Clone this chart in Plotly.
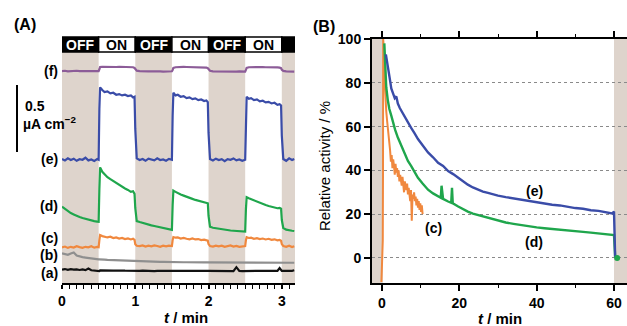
import plotly.graph_objects as go

# ---------------- Panel A data (current, µA cm^-2, offset traces) ----------------
tA = [0, 0.04, 0.08, 0.12, 0.16, 0.2, 0.24, 0.28, 0.32, 0.36, 0.4, 0.44, 0.48, 0.5,
      0.51, 0.52, 0.55, 0.58, 0.62, 0.66, 0.7, 0.74, 0.78, 0.82, 0.86, 0.9, 0.94, 0.97, 0.99,
      1.0, 1.02, 1.06, 1.1, 1.14, 1.18, 1.22, 1.26, 1.3, 1.34, 1.38, 1.42, 1.46, 1.5,
      1.51, 1.52, 1.55, 1.58, 1.62, 1.66, 1.7, 1.74, 1.78, 1.82, 1.86, 1.9, 1.94, 1.97, 1.99,
      2.0, 2.02, 2.06, 2.1, 2.14, 2.18, 2.22, 2.26, 2.3, 2.34, 2.38, 2.42, 2.46, 2.5,
      2.51, 2.52, 2.55, 2.58, 2.62, 2.66, 2.7, 2.74, 2.78, 2.82, 2.86, 2.9, 2.94, 2.97, 2.99,
      3.0, 3.02, 3.06, 3.1, 3.14, 3.17]

curr_f = [1.582, 1.584, 1.58, 1.583, 1.581, 1.584, 1.582, 1.58, 1.583, 1.581, 1.582, 1.58, 1.583, 1.582,
          1.595, 1.612, 1.614, 1.613, 1.615, 1.613, 1.614, 1.612, 1.614, 1.613, 1.612, 1.614, 1.611, 1.61, 1.605,
          1.595, 1.585, 1.582, 1.58, 1.581, 1.579, 1.58, 1.578, 1.58, 1.579, 1.578, 1.58, 1.579, 1.58,
          1.59, 1.605, 1.61, 1.612, 1.611, 1.613, 1.612, 1.611, 1.613, 1.612, 1.611, 1.61, 1.611, 1.608, 1.603,
          1.593, 1.584, 1.58, 1.579, 1.578, 1.58, 1.578, 1.577, 1.579, 1.578, 1.577, 1.579, 1.578, 1.578,
          1.59, 1.605, 1.61, 1.611, 1.612, 1.61, 1.611, 1.612, 1.61, 1.611, 1.61, 1.611, 1.609, 1.607, 1.603,
          1.592, 1.583, 1.579, 1.578, 1.577, 1.578]

curr_e = [0.925, 0.915, 0.93, 0.918, 0.928, 0.912, 0.924, 0.92, 0.935, 0.915, 0.922, 0.91, 0.925, 0.92,
          1.30, 1.46, 1.44, 1.425, 1.43, 1.415, 1.42, 1.405, 1.41, 1.40, 1.405, 1.395, 1.40, 1.385, 1.39,
          1.15, 0.93, 0.918, 0.925, 0.912, 0.928, 0.92, 0.915, 0.93, 0.918, 0.922, 0.912, 0.926, 0.92,
          1.25, 1.42, 1.40, 1.405, 1.39, 1.395, 1.38, 1.385, 1.372, 1.378, 1.365, 1.37, 1.358, 1.362, 1.35,
          1.12, 0.925, 0.915, 0.928, 0.918, 0.924, 0.91, 0.925, 0.92, 0.93, 0.915, 0.922, 0.912, 0.92,
          1.22, 1.39, 1.375, 1.38, 1.365, 1.37, 1.355, 1.36, 1.348, 1.352, 1.34, 1.345, 1.33, 1.335, 1.325,
          1.10, 0.925, 0.912, 0.93, 0.918, 0.925]

curr_d = [0.569, 0.552, 0.536, 0.522, 0.512, 0.50, 0.493, 0.485, 0.478, 0.472, 0.468, 0.462, 0.458, 0.457,
          0.70, 0.863, 0.83, 0.81, 0.79, 0.775, 0.76, 0.748, 0.735, 0.72, 0.705, 0.695, 0.68, 0.685, 0.665,
          0.56, 0.462, 0.455, 0.448, 0.44, 0.435, 0.43, 0.425, 0.42, 0.415, 0.41, 0.405, 0.40, 0.396,
          0.58, 0.689, 0.68, 0.67, 0.66, 0.652, 0.642, 0.635, 0.628, 0.62, 0.615, 0.608, 0.602, 0.598, 0.595,
          0.50, 0.42, 0.412, 0.408, 0.404, 0.40, 0.397, 0.395, 0.392, 0.39, 0.388, 0.386, 0.385, 0.384,
          0.55, 0.64, 0.632, 0.625, 0.615, 0.605, 0.597, 0.59, 0.582, 0.575, 0.568, 0.562, 0.558, 0.56, 0.555,
          0.47, 0.41, 0.398, 0.392, 0.39, 0.388]

curr_c = [0.266, 0.272, 0.262, 0.27, 0.265, 0.275, 0.268, 0.262, 0.27, 0.266, 0.274, 0.264, 0.27, 0.268,
          0.32, 0.358, 0.35, 0.345, 0.34, 0.345, 0.335, 0.34, 0.332, 0.336, 0.328, 0.333, 0.325, 0.33, 0.322,
          0.29, 0.278, 0.275, 0.28, 0.272, 0.278, 0.274, 0.28, 0.276, 0.27, 0.278, 0.274, 0.279, 0.276,
          0.32, 0.343, 0.338, 0.34, 0.332, 0.336, 0.33, 0.326, 0.332, 0.325, 0.328, 0.32, 0.324, 0.318, 0.316,
          0.29, 0.276, 0.272, 0.279, 0.274, 0.278, 0.27, 0.276, 0.28, 0.272, 0.277, 0.27, 0.275, 0.276,
          0.32, 0.342, 0.336, 0.338, 0.33, 0.334, 0.328, 0.332, 0.325, 0.33, 0.322, 0.326, 0.318, 0.322, 0.316,
          0.29, 0.276, 0.27, 0.278, 0.268, 0.274]

curr_b = [0.222, 0.215, 0.21, 0.22, 0.228, 0.205, 0.198, 0.193, 0.19, 0.186, 0.183, 0.18, 0.178, 0.177,
          0.177, 0.176, 0.175, 0.174, 0.172, 0.171, 0.17, 0.168, 0.167, 0.166, 0.165, 0.164, 0.163, 0.162, 0.161,
          0.161, 0.16, 0.16, 0.159, 0.159, 0.158, 0.158, 0.158, 0.157, 0.157, 0.157, 0.156, 0.156, 0.156,
          0.156, 0.156, 0.155, 0.155, 0.155, 0.155, 0.155, 0.154, 0.154, 0.154, 0.154, 0.154, 0.154, 0.154, 0.154,
          0.154, 0.154, 0.153, 0.153, 0.153, 0.153, 0.153, 0.153, 0.153, 0.153, 0.152, 0.152, 0.152, 0.152,
          0.152, 0.152, 0.152, 0.152, 0.152, 0.151, 0.151, 0.151, 0.151, 0.151, 0.151, 0.151, 0.151, 0.151, 0.151,
          0.151, 0.151, 0.151, 0.151, 0.151, 0.151]

curr_a = [0.10, 0.104, 0.098, 0.103, 0.10, 0.102, 0.097, 0.101, 0.096, 0.108, 0.095, 0.094, 0.093, 0.09,
          0.088, 0.094, 0.093, 0.095, 0.092, 0.094, 0.093, 0.092, 0.094, 0.093, 0.092, 0.091, 0.093, 0.092, 0.091,
          0.09, 0.091, 0.09, 0.092, 0.09, 0.091, 0.09, 0.089, 0.091, 0.09, 0.089, 0.091, 0.09, 0.09,
          0.09, 0.091, 0.09, 0.091, 0.089, 0.09, 0.091, 0.09, 0.089, 0.09, 0.091, 0.09, 0.089, 0.09, 0.09,
          0.09, 0.089, 0.09, 0.091, 0.09, 0.089, 0.09, 0.091, 0.09, 0.089, 0.118, 0.09, 0.089, 0.09,
          0.09, 0.089, 0.091, 0.09, 0.089, 0.09, 0.091, 0.09, 0.089, 0.09, 0.09, 0.091, 0.09, 0.112, 0.09,
          0.09, 0.091, 0.09, 0.09, 0.091, 0.095]

light_edges = [0, 0.5, 1.0, 1.5, 2.0, 2.5, 3.0, 3.18]
light_states = ["OFF", "ON", "OFF", "ON", "OFF", "ON", ""]
xticks_A = [0, 1, 2, 3]
scale_bar = 0.5  # µA cm^-2
labels_A = ["(f)", "(e)", "(d)", "(c)", "(b)", "(a)"]
label_levels_A = [1.582, 0.922, 0.575, 0.336, 0.209, 0.075]

# ---------------- Panel B data (relative activity, %) ----------------
tB_e = [1.0, 1.3, 1.7, 2.0, 2.4, 2.8, 3.3, 3.7, 4.1, 4.6, 5.2, 5.8, 6.7, 7.5, 8.4, 9.3, 10.5, 11.9,
        13.2, 14.5, 15.8, 17.1, 18.4, 19.7, 21.0, 22.2, 23.5, 24.8, 26.1, 27.4, 28.7, 30.0, 32, 34, 36,
        38, 40, 42, 44, 46, 48, 50, 52, 54, 56, 58, 59.5, 60.0, 60.1, 60.3]
act_e = [93, 89, 84, 82, 77.4, 75.5, 73, 73.8, 70.5, 68.5, 66.5, 64.5, 62, 59.5, 57, 54.3, 51.5, 48.2,
         46, 43.5, 42, 39.7, 38.3, 36.6, 35, 33.5, 32.2, 31.2, 30.3, 29.7, 29, 28.5, 27.8, 27.2, 26.5,
         26, 25.5, 25, 24.3, 24, 23.3, 22.8, 22.5, 21.8, 21.5, 21, 20.3, 21.2, 10, 0]

tB_d = [0.6, 0.8, 1.1, 1.5, 1.9, 2.4, 2.9, 3.4, 4.1, 4.8, 5.6, 6.7, 7.6, 8.5, 9.3, 10.5, 11.9, 13.2,
        14.5, 15.2, 15.4, 15.6, 15.8, 17.1, 17.9, 18.1, 18.3, 19.7, 21.0, 22.2, 23.5, 24.8, 26.1, 27.4,
        28.7, 30.0, 32, 34, 36, 38, 40, 42, 44, 46, 48, 50, 52, 54, 56, 58, 59.5, 60.0, 60.3]
act_d = [98, 88, 78, 72, 68, 65, 61, 58.5, 55, 52, 48.5, 44.3, 41.8, 39, 36.6, 34, 31.2, 29.5,
         28.2, 27.5, 33, 27.2, 27, 25.8, 25.2, 32, 25, 23.5, 22.2, 21.2, 20.3, 19.7, 18.8, 18.2,
         17.6, 17, 16.2, 15.6, 15, 14.5, 14, 13.6, 13.2, 12.9, 12.6, 12.2, 11.9, 11.6, 11.3, 11, 10.7, 10.5, 0.5]
tB_d_end = [60.8]
act_d_end = [0]

tB_c = [-0.15, -0.05, 0.05, 0.12, 0.2, 0.26, 0.3, 0.45, 0.6, 0.75, 0.9, 1.1, 1.3, 1.5, 1.7, 1.9, 2.1,
        2.3, 2.5, 2.7, 2.9, 3.1, 3.3, 3.5, 3.7, 3.9, 4.1, 4.3, 4.5, 4.7, 4.9, 5.1, 5.3, 5.5, 5.7, 5.9,
        6.1, 6.3, 6.5, 6.7, 6.9, 7.1, 7.3, 7.5, 7.7, 7.9, 8.1, 8.3, 8.5, 8.7, 8.9, 9.1, 9.3, 9.5, 9.7,
        9.9, 10.1, 10.3, 10.5]
act_c = [-11, -4, 6, 1, 8, 40, 100, 96, 84, 76, 72, 67, 63, 60, 55, 52, 49, 44, 47, 41, 45, 42, 38,
         43, 39, 41, 37, 40, 35, 38, 36, 33, 37, 34, 30, 35, 33, 31, 34, 29, 32, 30, 26, 31, 17, 29,
         27, 30, 26, 28, 24, 27, 23, 26, 22, 25, 21, 24, 20]

labels_B = ["(e)", "(c)", "(d)"]
labels_B_t = [39.5, 13.3, 39.2]
labels_B_v = [30.8, 13.5, 7.3]
shade_B = [(-3, 0.2), (60, 65)]

# ---------------- styling ----------------
W, H = 627, 326
FONT = "Liberation Sans, Arial, sans-serif"
SHADE = "#ded4cc"
COL = {"f": "#8c5c98", "e": "#3a4ca8", "d": "#1fa64c", "c": "#f0883e", "b": "#8f8f8f", "a": "#111111"}


def px(xp):
    return xp / W


def py(yp):
    return (H - yp) / H


def txt(**kw):
    d = dict(showarrow=False, xanchor="center", yanchor="middle")
    d.update(kw)
    return d


fig = go.Figure()

for key, vals in [("f", curr_f), ("e", curr_e), ("d", curr_d), ("c", curr_c), ("b", curr_b), ("a", curr_a)]:
    fig.add_trace(go.Scatter(x=tA, y=vals, mode="lines", xaxis="x", yaxis="y",
                             line=dict(color=COL[key], width=2.2), showlegend=False, hoverinfo="skip"))

fig.add_trace(go.Scatter(x=tB_c, y=act_c, mode="lines", xaxis="x2", yaxis="y2",
                         line=dict(color=COL["c"], width=2), showlegend=False))
fig.add_trace(go.Scatter(x=tB_d, y=act_d, mode="lines", xaxis="x2", yaxis="y2",
                         line=dict(color=COL["d"], width=2.4), showlegend=False))
fig.add_trace(go.Scatter(x=tB_e, y=act_e, mode="lines", xaxis="x2", yaxis="y2",
                         line=dict(color=COL["e"], width=2.4), showlegend=False))
fig.add_trace(go.Scatter(x=tB_d_end, y=act_d_end, mode="markers", xaxis="x2", yaxis="y2",
                         marker=dict(color=COL["d"], size=6), showlegend=False))

shapes = []
annotations = []

# Panel A: shading and light bar
A_bot, A_top, bar_top = py(283), py(52), py(37)
for i, st in enumerate(light_states):
    x0, x1 = light_edges[i], light_edges[i + 1]
    if st != "ON":
        shapes.append(dict(type="rect", xref="x", yref="paper", x0=x0, x1=x1, y0=A_bot, y1=A_top,
                           fillcolor=SHADE, line_width=0, layer="below"))
    shapes.append(dict(type="rect", xref="x", yref="paper", x0=x0, x1=x1, y0=A_top, y1=bar_top,
                       fillcolor="black" if st != "ON" else "white", line=dict(color="black", width=1.5)))
    if st:
        annotations.append(txt(x=(x0 + x1) / 2, y=(A_top + bar_top) / 2, xref="x", yref="paper",
                               text="<b>%s</b>" % st,
                               font=dict(family=FONT, size=14, color="white" if st == "OFF" else "black")))

# scale bar
bar_base = 0.978
shapes.append(dict(type="line", xref="paper", yref="y", x0=px(17), x1=px(17), y0=bar_base,
                   y1=bar_base + scale_bar, line=dict(color="black", width=2)))
annotations.append(txt(x=px(23), y=bar_base + 0.34, xref="paper", yref="y", xanchor="left",
                       text="<b>%g</b>" % scale_bar, font=dict(family=FONT, size=14, color="black")))
annotations.append(txt(x=px(21), y=bar_base + 0.215, xref="paper", yref="y", xanchor="left",
                       text="<b>µA cm<sup>−2</sup></b>", font=dict(family=FONT, size=14, color="black")))

for lab, lev in zip(labels_A, label_levels_A):
    annotations.append(txt(x=px(60), y=lev, xref="paper", yref="y", xanchor="right", text="<b>%s</b>" % lab,
                           font=dict(family=FONT, size=14, color="black")))

# Panel B shading
for x0, x1 in shade_B:
    shapes.append(dict(type="rect", xref="x2", yref="paper", x0=x0, x1=x1, y0=py(283), y1=py(39),
                       fillcolor=SHADE, line_width=0, layer="below"))

for lab, tt, vv in zip(labels_B, labels_B_t, labels_B_v):
    annotations.append(txt(x=tt, y=vv, xref="x2", yref="y2", text="<b>%s</b>" % lab,
                           font=dict(family=FONT, size=14, color="black")))

# panel letters and titles
annotations += [
    txt(x=px(12), y=py(24), xref="paper", yref="paper", xanchor="left", text="<b>(A)</b>",
        font=dict(family=FONT, size=16, color="black")),
    txt(x=px(311), y=py(27), xref="paper", yref="paper", xanchor="left", text="<b>(B)</b>",
        font=dict(family=FONT, size=16, color="black")),
    txt(x=px(186), y=py(317), xref="paper", yref="paper", text="<b><i>t</i> / min</b>",
        font=dict(family=FONT, size=15, color="black")),
    txt(x=px(500), y=py(318), xref="paper", yref="paper", text="<b><i>t</i> / min</b>",
        font=dict(family=FONT, size=15, color="black")),
    txt(x=px(325), y=py(166), xref="paper", yref="paper", text="Relative activity / %", textangle=-90,
        font=dict(family=FONT, size=15, color="black")),
]

tickfont = dict(family=FONT, size=14, color="black", weight="bold")

fig.update_layout(
    width=W, height=H, margin=dict(l=0, r=0, t=0, b=0),
    paper_bgcolor="white", plot_bgcolor="rgba(0,0,0,0)",
    shapes=shapes, annotations=annotations, showlegend=False,
    xaxis=dict(domain=[px(62), px(295)], range=[0, 3.18], anchor="y", showline=True, linecolor="black",
               linewidth=2, ticks="outside", ticklen=4, tickwidth=1.5, tickcolor="black",
               tickmode="array", tickvals=xticks_A, tickfont=tickfont,
               minor=dict(dtick=0.1, tick0=0, ticks="outside", ticklen=4, tickwidth=1.2, tickcolor="black"),
               showgrid=False, zeroline=False, automargin=False),
    yaxis=dict(domain=[py(283), py(52)], range=[0, 1.724], anchor="x", visible=False,
               showgrid=False, zeroline=False),
    xaxis2=dict(domain=[px(372), 1.0], range=[-2.586, 63.36], anchor="y2", showline=True, linecolor="black",
                linewidth=1.8, mirror="ticks", ticks="outside", ticklen=6, tickwidth=1.5, tickcolor="black",
                tickvals=[0, 20, 40, 60], tickfont=tickfont,
                minor=dict(dtick=10, tick0=0, ticks="outside", ticklen=3, tickwidth=1.2, tickcolor="black"),
                showgrid=False, zeroline=False, automargin=False),
    yaxis2=dict(domain=[py(283), py(39)], range=[-11.42, 100], anchor="x2", showline=True, linecolor="black",
                linewidth=2, ticks="outside", ticklen=6, tickwidth=1.5, tickcolor="black",
                tickvals=[0, 20, 40, 60, 80, 100], tickfont=tickfont,
                showgrid=True, gridcolor="#8a8a8a", griddash="dot", gridwidth=1,
                zeroline=False, automargin=False),
)

fig.write_html("out.html", config={"displayModeBar": False},
               post_script="document.body.style.margin='0';document.body.style.overflow='hidden';")
